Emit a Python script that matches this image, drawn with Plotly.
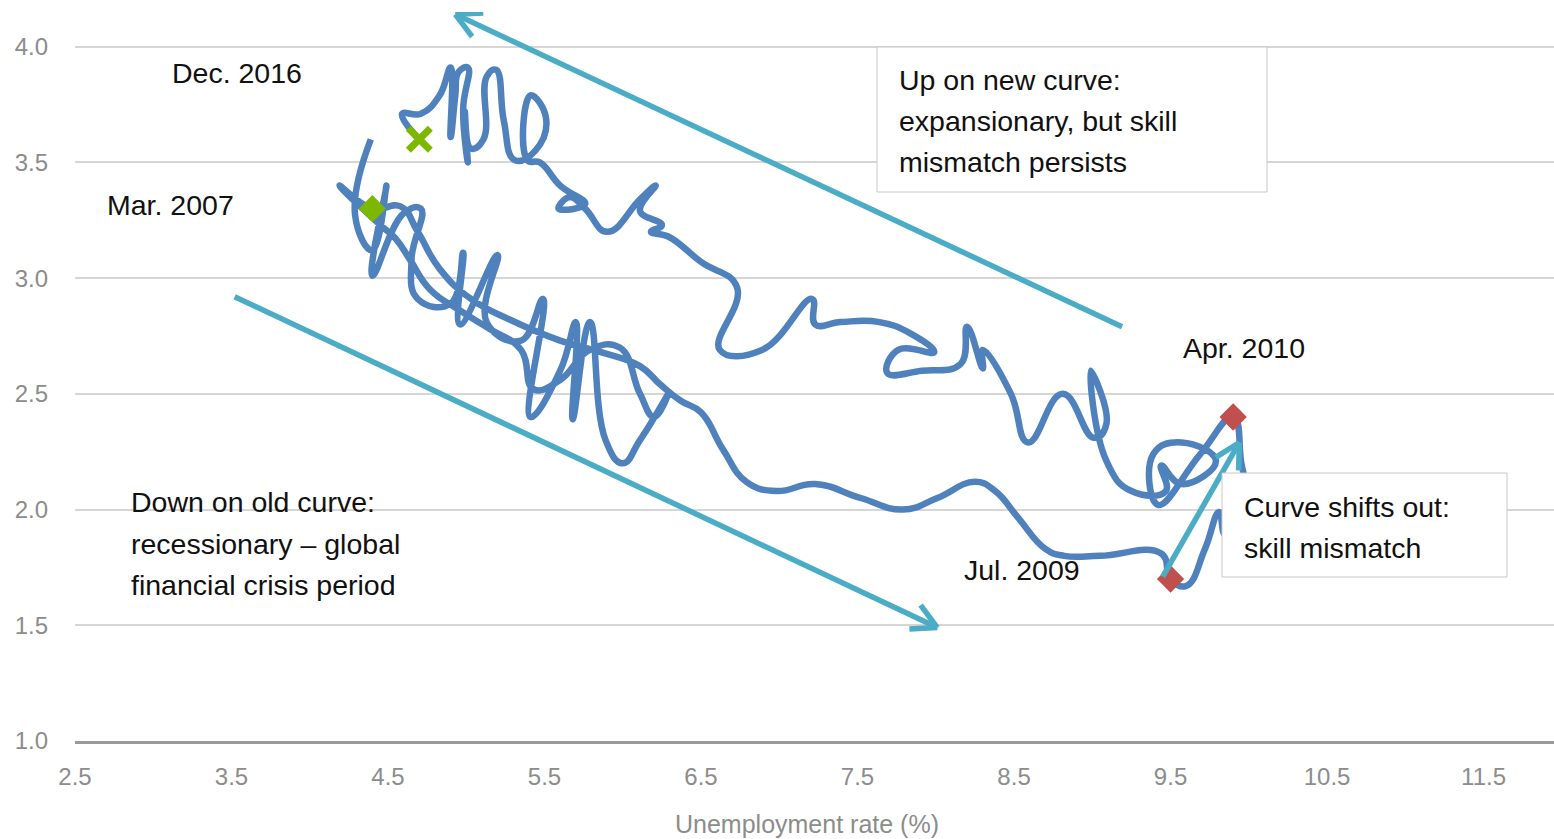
import math
import plotly.graph_objects as go

# Monthly unemployment rate (%) vs job openings rate (%), 2001 - Dec. 2016
unemployment = [
    # 2001-2006
    4.39, 4.29, 4.40, 4.49, 4.40, 4.60, 4.71, 4.65, 4.69, 4.90, 4.98, 4.96,
    5.20, 5.13, 5.35, 5.49, 5.41, 5.60, 5.70, 5.68, 5.79, 5.89, 6.00, 6.11,
    6.29, 6.20, 6.11, 5.98, 5.79, 5.60, 5.43, 5.35, 5.15, 4.96, 4.77, 4.64,
    4.55, 4.45, 4.19,
    # Mar. 2007 - Jul. 2009
    4.40, 4.58, 4.69, 4.83, 5.03, 5.28, 5.60, 5.86, 6.11, 6.24, 6.37, 6.50,
    6.64, 6.79, 6.98, 7.23, 7.52, 7.79, 8.01, 8.25, 8.38, 8.52, 8.70, 8.82,
    9.05, 9.44, 9.50,
    # Aug. 2009 - Apr. 2010
    9.60, 9.72, 9.81, 9.85, 9.98, 9.95, 9.90,
    # May 2010 - Dec. 2016
    9.69, 9.42, 9.39, 9.57, 9.79, 9.57, 9.44, 9.47, 9.25, 9.09, 8.99, 9.09,
    9.01, 8.81, 8.59, 8.48, 8.30, 8.30, 8.20, 8.16, 7.91, 7.69, 7.76, 7.99,
    7.84, 7.64, 7.39, 7.23, 7.21, 6.89, 6.62, 6.73, 6.50, 6.29, 6.18, 6.25,
    6.11, 6.21, 6.11, 5.90, 5.76, 5.66, 5.59, 5.76, 5.60, 5.47, 5.39, 5.41,
    5.51, 5.44, 5.31, 5.24, 5.19, 5.13, 5.11, 5.03, 4.99, 5.01, 4.98, 5.01,
    4.95, 4.93, 4.90, 4.90, 4.83, 4.71, 4.59, 4.70,
]
job_openings = [
    3.60, 3.27, 3.12, 3.40, 3.01, 3.28, 3.30, 3.08, 2.91, 2.89, 3.11, 2.80,
    3.10, 2.81, 2.73, 2.91, 2.40, 2.60, 2.81, 2.39, 2.81, 2.30, 2.20, 2.30,
    2.50, 2.40, 2.50, 2.70, 2.69, 2.56, 2.52, 2.69, 2.78, 2.86, 2.95, 3.08,
    3.17, 3.23, 3.40,
    3.30, 3.31, 3.20, 3.04, 2.91, 2.82, 2.73, 2.68, 2.62, 2.54, 2.47, 2.42,
    2.26, 2.12, 2.08, 2.11, 2.05, 2.00, 2.05, 2.12, 2.08, 1.97, 1.83, 1.80,
    1.80, 1.81, 1.70,
    1.67, 1.83, 1.99, 1.89, 2.04, 2.21, 2.40,
    2.24, 2.02, 2.24, 2.29, 2.21, 2.11, 2.19, 2.08, 2.08, 2.21, 2.60, 2.37,
    2.31, 2.50, 2.29, 2.50, 2.69, 2.61, 2.79, 2.63, 2.60, 2.59, 2.69, 2.68,
    2.76, 2.81, 2.81, 2.80, 2.91, 2.69, 2.69, 2.96, 3.07, 3.18, 3.20, 3.23,
    3.29, 3.40, 3.34, 3.20, 3.30, 3.35, 3.30, 3.32, 3.40, 3.50, 3.51, 3.79,
    3.69, 3.55, 3.51, 3.68, 3.90, 3.87, 3.60, 3.56, 3.72, 3.50, 3.73, 3.91,
    3.89, 3.79, 3.61, 3.91, 3.79, 3.71, 3.71, 3.60,
]

# Highlighted months
key_labels = ["Mar. 2007", "Jul. 2009", "Apr. 2010", "Dec. 2016"]
key_u = [4.4, 9.5, 9.9, 4.7]
key_v = [3.3, 1.7, 2.4, 3.6]

# Plot geometry (pixels)
W, H = 1554, 839
ML, MR, MT, MB = 75, 0, 12, 98
X_RANGE = [2.5, 11.95]
Y_RANGE = [1.0, 4.15]
PW, PH = W - ML - MR, H - MT - MB
SX = PW / (X_RANGE[1] - X_RANGE[0])
SY = PH / (Y_RANGE[1] - Y_RANGE[0])

LINE_BLUE = "#4F81BD"
ARROW = "#4BACC6"
GREEN = "#7CB800"
RED = "#C0504D"
FONT = "Liberation Sans, Arial, sans-serif"


def px(xp):
    return (xp - ML) / PW


def py(yp):
    return (MT + PH - yp) / PH


fig = go.Figure()

fig.add_trace(go.Scatter(
    x=unemployment, y=job_openings, mode="lines",
    line=dict(color=LINE_BLUE, width=6.5, shape="spline", smoothing=1.3),
    hoverinfo="skip", showlegend=False,
))

fig.add_trace(go.Scatter(
    x=key_u[:1], y=key_v[:1], mode="markers",
    marker=dict(symbol="diamond", size=21, color=GREEN),
    showlegend=False, hoverinfo="skip",
))
fig.add_trace(go.Scatter(
    x=key_u[1:3], y=key_v[1:3], mode="markers",
    marker=dict(symbol="diamond", size=21, color=RED),
    showlegend=False, hoverinfo="skip",
))
fig.add_trace(go.Scatter(
    x=key_u[3:], y=key_v[3:], mode="markers",
    marker=dict(symbol="x-thin", size=22, line=dict(color=GREEN, width=7)),
    showlegend=False, hoverinfo="skip",
))

# Direction arrows: (tail_x, tail_y, tip_x, tip_y) in axis units
arrows = [
    (9.19, 2.79, 4.93, 4.14),
    (3.52, 2.92, 8.01, 1.49),
    (9.45, 1.71, 9.94, 2.29),
]
shapes = []
BARB, ANG = 28, math.radians(28)
for x0, y0, x1, y1 in arrows:
    shapes.append(dict(type="line", xref="x", yref="y", x0=x0, y0=y0, x1=x1, y1=y1,
                       line=dict(color=ARROW, width=5.5), layer="above"))
    dxp, dyp = (x0 - x1) * SX, (y0 - y1) * SY
    n = math.hypot(dxp, dyp)
    ux, uy = dxp / n, dyp / n
    for s in (1, -1):
        c, si = math.cos(s * ANG), math.sin(s * ANG)
        bx, by = ux * c - uy * si, ux * si + uy * c
        shapes.append(dict(type="line", xref="x", yref="y", x0=x1, y0=y1,
                           x1=x1 + BARB * bx / SX, y1=y1 + BARB * by / SY,
                           line=dict(color=ARROW, width=5.5), layer="above"))

# Boxed notes (pixel rectangles)
for (l, t, r, b) in [(877, 47, 1267, 192), (1222, 473, 1507, 577)]:
    shapes.append(dict(type="rect", xref="paper", yref="paper",
                       x0=px(l), x1=px(r), y0=py(b), y1=py(t),
                       fillcolor="white", line=dict(color="#c8c8c8", width=1),
                       layer="above"))

notes = [
    ("Dec. 2016", 170, 73), ("Mar. 2007", 105, 205),
    ("Apr. 2010", 1181, 348), ("Jul. 2009", 962, 570),
    ("Down on old curve:", 129, 502), ("recessionary \u2013 global", 129, 544),
    ("financial crisis period", 129, 585),
    ("Up on new curve:", 897, 80), ("expansionary, but skill", 897, 121),
    ("mismatch persists", 897, 162),
    ("Curve shifts out:", 1242, 507), ("skill mismatch", 1242, 548),
]
annotations = [
    dict(text=t, xref="paper", yref="paper", x=px(xp), y=py(yp),
         xanchor="left", yanchor="middle", showarrow=False,
         font=dict(family=FONT, size=28.5, color="#111111"))
    for t, xp, yp in notes
]
annotations.append(dict(
    text="Unemployment rate (%)", xref="paper", yref="paper",
    x=px(807), y=py(824), xanchor="center", yanchor="middle", showarrow=False,
    font=dict(family=FONT, size=25, color="#8c8c8c"),
))

fig.update_layout(
    width=W, height=H,
    margin=dict(l=ML, r=MR, t=MT, b=MB, pad=0),
    paper_bgcolor="white", plot_bgcolor="white",
    shapes=shapes, annotations=annotations,
    xaxis=dict(range=X_RANGE, tick0=2.5, dtick=1.0, tickformat=".1f",
               showgrid=False, zeroline=False, showline=True,
               linecolor="#9a9a9a", linewidth=3, ticks="",
               ticklabelstandoff=12,
               tickfont=dict(family=FONT, size=24, color="#8c8c8c")),
    yaxis=dict(range=Y_RANGE, tick0=1.0, dtick=0.5, tickformat=".1f",
               showgrid=True, gridcolor="#d6d6d6", gridwidth=2,
               zeroline=False, showline=False, ticks="",
               ticklabelstandoff=26,
               tickfont=dict(family=FONT, size=24, color="#8c8c8c")),
)

fig.write_html("out.html")
